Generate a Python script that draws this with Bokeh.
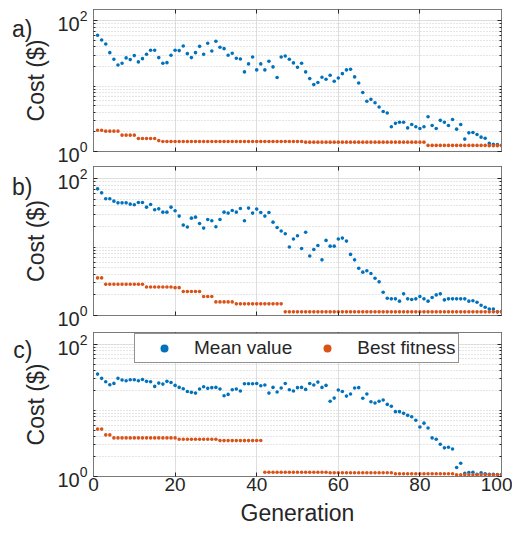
from bokeh.plotting import figure
from bokeh.models import (Range1d, FixedTicker, LinearAxis, LogAxis, Legend,
                          LegendItem, CustomJSTickFormatter)
from bokeh.layouts import column
from bokeh.embed import file_html
from bokeh.resources import INLINE

# ---------------- data ----------------
generations = list(range(1, 101))

mean_a = [60.4, 51.2, 44.5, 32.7, 25.9, 21.2, 22.5, 27.2, 25.6, 29.5,
          23.6, 26.5, 30.9, 35.6, 35.6, 27.5, 22.5, 23.0, 29.8, 35.6,
          35.2, 41.4, 31.6, 27.5, 32.7, 40.9, 30.9, 45.5, 34.7, 48.8,
          39.5, 37.7, 29.8, 32.0, 26.8, 26.2, 16.6, 22.0, 28.1, 17.8,
          22.0, 17.8, 24.1, 19.8, 13.6, 28.1, 29.1, 25.9, 22.8, 19.5,
          22.5, 16.6, 13.1, 10.6, 11.4, 13.7, 12.8, 14.7, 11.9, 13.4,
          15.6, 17.8, 18.2, 13.9, 11.2, 8.0, 5.9, 6.3, 5.6, 4.8,
          4.1, 3.9, 2.4, 2.7, 2.8, 2.8, 2.3, 2.6, 2.4, 2.25,
          2.4, 3.4, 2.5, 2.25, 3.0, 2.8, 2.5, 3.1, 2.2, 2.6,
          1.55, 1.93, 1.95, 1.82, 1.66, 1.60, 1.33, 1.29, 1.28, 1.25]

best_a = [2.12, 2.12, 2.05, 2.05, 2.05, 2.05, 1.78, 1.78, 1.78, 1.78,
          1.58, 1.58, 1.58, 1.58, 1.58, 1.47, 1.42, 1.42, 1.42, 1.42,
          1.42, 1.42, 1.42, 1.42, 1.42, 1.42, 1.42, 1.42, 1.42, 1.42,
          1.42, 1.42, 1.42, 1.42, 1.42, 1.42, 1.42, 1.42, 1.42, 1.42,
          1.42, 1.42, 1.42, 1.42, 1.42, 1.42, 1.42, 1.42, 1.42, 1.42,
          1.42, 1.39, 1.39, 1.39, 1.39, 1.39, 1.39, 1.39, 1.39, 1.39,
          1.39, 1.39, 1.39, 1.39, 1.39, 1.39, 1.39, 1.39, 1.39, 1.39,
          1.39, 1.39, 1.39, 1.39, 1.39, 1.39, 1.39, 1.39, 1.39, 1.39,
          1.39, 1.24, 1.24, 1.24, 1.24, 1.24, 1.24, 1.24, 1.24, 1.24,
          1.24, 1.24, 1.24, 1.24, 1.24, 1.24, 1.23, 1.23, 1.23, 1.23]

mean_b = [70.7, 61.8, 50.6, 50.6, 46.8, 44.2, 44.2, 44.2, 42.3, 41.4,
          44.7, 44.7, 38.2, 41.8, 35.0, 36.1, 32.3, 32.3, 38.2, 33.8,
          28.3, 20.9, 19.6, 26.4, 27.3, 22.1, 18.9, 25.3, 24.2, 19.8,
          25.3, 32.3, 31.3, 34.2, 32.3, 36.6, 24.2, 37.0, 31.3, 35.8,
          32.0, 28.3, 32.0, 23.1, 19.3, 17.1, 15.6, 10.0, 13.1, 14.6,
          9.5, 16.4, 7.4, 9.2, 10.5, 6.5, 12.5, 10.3, 10.3, 13.1,
          13.5, 12.2, 7.8, 6.5, 4.9, 4.3, 4.5, 4.1, 3.5, 3.1,
          2.19, 1.79, 1.75, 1.75, 1.62, 2.07, 1.75, 1.71, 1.75, 1.89,
          1.75, 1.62, 1.83, 2.0, 2.07, 1.69, 1.75, 1.75, 1.75, 1.75,
          1.75, 1.62, 1.64, 1.56, 1.41, 1.32, 1.24, 1.24, 1.13, 1.13]

best_b = [3.54, 3.54, 2.86, 2.86, 2.86, 2.86, 2.86, 2.86, 2.86, 2.86,
          2.86, 2.86, 2.61, 2.61, 2.61, 2.61, 2.61, 2.61, 2.61, 2.55,
          2.55, 2.24, 2.24, 2.24, 2.24, 2.24, 1.89, 1.89, 1.89, 1.58,
          1.58, 1.58, 1.58, 1.58, 1.48, 1.48, 1.48, 1.48, 1.48, 1.48,
          1.48, 1.48, 1.48, 1.48, 1.48, 1.48, 1.13, 1.13, 1.13, 1.13,
          1.13, 1.13, 1.13, 1.13, 1.13, 1.13, 1.13, 1.13, 1.13, 1.13,
          1.13, 1.13, 1.13, 1.13, 1.13, 1.13, 1.13, 1.13, 1.13, 1.13,
          1.13, 1.13, 1.13, 1.13, 1.13, 1.13, 1.13, 1.13, 1.13, 1.13,
          1.13, 1.13, 1.13, 1.13, 1.13, 1.13, 1.13, 1.13, 1.13, 1.13,
          1.13, 1.13, 1.13, 1.13, 1.13, 1.13, 1.13, 1.13, 1.13, 1.13]

mean_c = [35.3, 30.4, 27.1, 24.4, 25.5, 30.4, 28.7, 28.0, 29.0, 29.0,
          28.0, 29.3, 27.4, 27.1, 23.0, 25.8, 24.9, 27.4, 26.4, 23.8,
          22.2, 21.2, 19.3, 18.7, 18.2, 21.0, 22.7, 21.5, 22.0, 22.2,
          21.0, 16.6, 17.4, 20.5, 21.0, 19.6, 25.2, 25.2, 25.2, 25.5,
          23.5, 24.1, 18.2, 22.2, 18.9, 21.7, 25.5, 20.5, 19.6, 22.0,
          22.2, 20.7, 25.5, 24.1, 26.7, 22.2, 23.8, 13.7, 15.3, 20.3,
          19.3, 16.4, 17.6, 21.7, 22.0, 15.2, 17.6, 13.5, 12.9, 13.7,
          14.3, 12.3, 11.5, 9.55, 9.55, 9.0, 8.4, 8.0, 7.1, 5.6,
          6.4, 5.4, 3.83, 3.66, 3.07, 2.71, 2.77, 2.61, 1.37, 1.59,
          1.12, 1.15, 1.16, 1.08, 1.14, 1.10, 1.08, 1.08, 1.07, 1.07]

best_c = [5.2, 5.2, 4.25, 4.25, 3.83, 3.83, 3.83, 3.83, 3.83, 3.83,
          3.83, 3.83, 3.83, 3.83, 3.83, 3.83, 3.83, 3.83, 3.83, 3.83,
          3.65, 3.65, 3.65, 3.65, 3.65, 3.65, 3.65, 3.65, 3.65, 3.65,
          3.49, 3.49, 3.49, 3.49, 3.49, 3.49, 3.49, 3.49, 3.49, 3.49,
          3.49, 1.16, 1.16, 1.16, 1.16, 1.16, 1.16, 1.16, 1.16, 1.16,
          1.16, 1.16, 1.16, 1.16, 1.16, 1.16, 1.16, 1.14, 1.14, 1.14,
          1.14, 1.14, 1.14, 1.14, 1.14, 1.14, 1.14, 1.14, 1.14, 1.14,
          1.14, 1.14, 1.14, 1.10, 1.10, 1.10, 1.10, 1.10, 1.10, 1.10,
          1.10, 1.10, 1.10, 1.10, 1.10, 1.10, 1.10, 1.10, 1.06, 1.06,
          1.06, 1.06, 1.06, 1.06, 1.06, 1.06, 1.06, 1.06, 1.06, 1.06]

x_ticks = [0, 20, 40, 60, 80, 100]
y_ticks = [1, 100]
y_minor = [2, 3, 4, 5, 6, 7, 8, 9, 10, 20, 30, 40, 50, 60, 70, 80, 90]
panel_tags = ["a)", "b)", "c)"]
series_labels = ["Mean value", "Best fitness"]

# ---------------- style ----------------
FONT = "Liberation Sans"
TXT = "#262626"
BLUE = "#0072BD"
ORANGE = "#D95319"
EDGE = "#7a7a7a"


def style_axis(ax):
    ax.axis_line_color = EDGE
    ax.major_tick_line_color = TXT
    ax.minor_tick_line_color = TXT
    ax.major_tick_in = 4
    ax.major_tick_out = 0
    ax.minor_tick_in = 2
    ax.minor_tick_out = 0
    ax.major_label_text_font = FONT
    ax.major_label_text_color = TXT
    ax.major_label_text_font_size = "19px"
    ax.axis_label_text_font = FONT
    ax.axis_label_text_font_style = "normal"
    ax.axis_label_text_color = TXT
    ax.axis_label_text_font_size = "23px"


def hide_labels(ax):
    ax.formatter = CustomJSTickFormatter(code="return '';")
    ax.major_label_text_font_size = "2px"
    ax.major_label_text_alpha = 0
    ax.major_label_standoff = 0
    ax.axis_label = None


def make_panel(tag, mean, best, frame_h, b_top, b_bottom, show_x,
               tag_y, legend_pos=None):
    p = figure(frame_width=408, frame_height=frame_h,
               min_border_left=93, min_border_right=11,
               min_border_top=b_top, min_border_bottom=b_bottom,
               x_range=Range1d(0, 100), y_range=Range1d(1, 150),
               y_axis_type="log", output_backend="svg",
               toolbar_location=None, background_fill_color="white",
               border_fill_color="white")
    p.outline_line_color = EDGE
    p.outline_line_width = 1

    p.xaxis.ticker = FixedTicker(ticks=x_ticks, minor_ticks=[])
    p.yaxis.ticker = FixedTicker(ticks=y_ticks, minor_ticks=y_minor)

    style_axis(p.yaxis[0])
    p.yaxis.axis_label = "Cost ($)"
    p.yaxis.major_label_text_font_size = "20px"
    p.yaxis.major_label_standoff = 6
    p.yaxis.axis_label_standoff = 5

    style_axis(p.xaxis[0])
    if show_x:
        p.xaxis.axis_label = "Generation"
        p.xaxis.major_label_standoff = 1
        p.xaxis.axis_label_standoff = 6
    else:
        hide_labels(p.xaxis[0])

    top = LinearAxis(ticker=FixedTicker(ticks=x_ticks, minor_ticks=[]))
    style_axis(top)
    hide_labels(top)
    p.add_layout(top, "above")
    right = LogAxis(ticker=FixedTicker(ticks=y_ticks, minor_ticks=y_minor))
    style_axis(right)
    hide_labels(right)
    p.add_layout(right, "right")

    # panel tag ("a)", "b)", "c)") as the only label of an outer, bare axis
    tag_axis = LogAxis(ticker=FixedTicker(ticks=[tag_y], minor_ticks=[]),
                       formatter=CustomJSTickFormatter(code="return '%s';" % tag))
    tag_axis.axis_line_color = None
    tag_axis.major_tick_line_color = None
    tag_axis.minor_tick_line_color = None
    tag_axis.major_tick_out = 0
    tag_axis.major_tick_in = 0
    tag_axis.major_label_standoff = -12
    tag_axis.major_label_text_font = FONT
    tag_axis.major_label_text_font_size = "23px"
    tag_axis.major_label_text_color = TXT
    p.add_layout(tag_axis, "left")

    p.xgrid.grid_line_color = "#dedede"
    p.ygrid.grid_line_color = "#dedede"
    p.ygrid.minor_grid_line_color = "#cccccc"
    p.ygrid.minor_grid_line_dash = "1 2"

    rm = p.scatter(generations, mean, size=3.6, color=BLUE, line_color=None)
    rb = p.scatter(generations, best, size=3.6, color=ORANGE, line_color=None)

    if legend_pos is not None:
        leg = Legend(items=[LegendItem(label=series_labels[0], renderers=[rm]),
                            LegendItem(label=series_labels[1], renderers=[rb])],
                     location=legend_pos, orientation="horizontal",
                     padding=3, spacing=9, glyph_width=52, glyph_height=20,
                     label_standoff=4, label_height=20,
                     label_text_font=FONT, label_text_font_size="19px",
                     label_text_color=TXT, border_line_color=TXT,
                     border_line_width=1, background_fill_color="white",
                     background_fill_alpha=1, margin=0)
        p.add_layout(leg)
    return p


pa = make_panel(panel_tags[0], mean_a, best_a, 142, 9, 14, False, 76)
pb = make_panel(panel_tags[1], mean_b, best_b, 149, 1, 15, False, 76)
pc = make_panel(panel_tags[2], mean_c, best_c, 144, 2, 51, True, 82,
                legend_pos=(41, 113))

layout = column(pa, pb, pc, spacing=0)
open("out.html", "w").write(file_html(layout, INLINE))
